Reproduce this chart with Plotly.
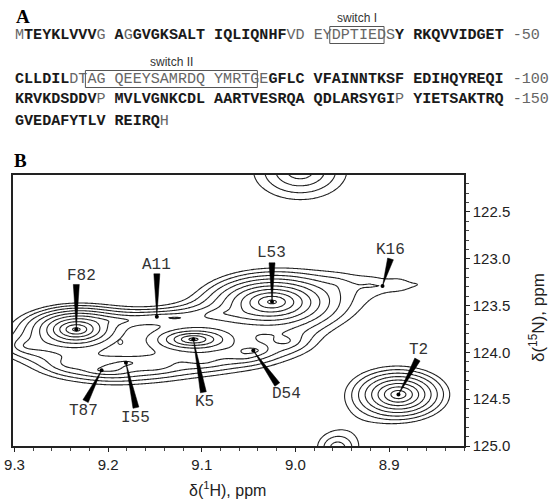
import numpy as np
import plotly.graph_objects as go

# ---------------- data ----------------
# Panel A: sequence rows as (text, bold) segments
seq_rows = [
    [("M", 0), ("TEYKLVVV", 1), ("G ", 0), ("A", 1), ("G", 0), ("GVGKSALT IQLIQNHF", 1),
     ("VD EYDPTIEDS", 0), ("Y RKQVVIDGET", 1), (" -50", 0)],
    [("CLLDIL", 1), ("DTAG QEEYSAMRDQ YMRTGE", 0), ("GFLC VFAINNTKSF EDIHQYREQI", 1), (" -100", 0)],
    [("KRVKDSDDV", 1), ("P", 0), (" MVLVGNKCDL AARTVESRQA QDLARSYGI", 1), ("P", 0),
     (" YIETSAKTRQ", 1), (" -150", 0)],
    [("GVEDAFYTLV REIRQ", 1), ("H", 0)],
]
# switch regions: (label, row, first char index, last char index exclusive)
switch_regions = [("switch I", 0, 35, 41), ("switch II", 1, 8, 27)]

# Panel B: assigned peaks (1H ppm, 15N ppm, height, width 1H, width 15N)
peak_names = ["F82", "A11", "L53", "K16", "K5", "D54", "T87", "I55", "T2"]
peak_h = [9.234, 9.148, 9.025, 8.907, 9.109, 9.045, 9.207, 9.181, 8.890]
peak_n = [123.755, 123.62, 123.46, 123.29, 123.86, 123.98, 124.19, 124.11, 124.45]
peak_amp = [18.0, 0.5, 18.0, 0.3, 13.0, 1.8, 1.1, 1.1, 12.0]
peak_wh = [0.020, 0.03, 0.028, 0.02, 0.022, 0.012, 0.016, 0.016, 0.022]
peak_wn = [0.09, 0.06, 0.12, 0.03, 0.065, 0.04, 0.04, 0.04, 0.12]
# label offsets (px) from peak: label centre and wedge base
label_dx = [5, 0, -1, 8, 11, 33, -18, 10, 20]
label_dy = [-53, -52, -49, -36, 63, 43, 41, 55, -45]
wedge_dx = [0, 0, 0, 8, 10, 24, -16, 10, 19]
wedge_dy = [-45, -43, -39, -27, 53, 34, 31, 45, -35]

# unassigned / overlapping spectral components (1H, 15N, height, wH, wN)
extra_h = [8.995, 8.955,
           9.285, 9.240, 9.195, 9.150, 9.100, 9.055, 9.010,
           9.190, 9.130, 9.075,
           8.955, 8.920, 8.890, 8.868]
extra_n = [122.06, 125.02,
           123.93, 124.12, 124.17, 124.13, 124.08, 124.03, 123.88,
           123.66, 123.63, 123.58,
           123.27, 123.27, 123.27, 123.27]
extra_amp = [3.6, 2.6,
             2.0, 2.0, 2.2, 2.2, 1.8, 1.8, 1.8,
             1.7, 1.7, 1.7,
             0.58, 0.58, 0.58, 0.58]
extra_wh = [0.039, 0.022,
            0.03, 0.03, 0.03, 0.03, 0.03, 0.03, 0.025,
            0.045, 0.045, 0.04,
            0.03, 0.03, 0.025, 0.02]
extra_wn = [0.24, 0.17,
            0.12, 0.12, 0.12, 0.12, 0.12, 0.12, 0.12,
            0.06, 0.06, 0.07,
            0.18, 0.18, 0.18, 0.18]
# small unassigned peak shown as a tiny ring
minor_h = [9.187]
minor_n = [123.89]

x_ticks = [9.3, 9.2, 9.1, 9.0, 8.9]
y_ticks = [122.5, 123.0, 123.5, 124.0, 124.5, 125.0]
x_range = [9.3016, 8.820]
y_range = [125.0, 122.105]

# ---------------- layout geometry ----------------
W, H = 560, 500
L, R, T, B = 13, 96, 175, 54
pw, ph = W - L - R, H - T - B
sx = (x_range[0] - x_range[1]) / pw   # ppm per px (x decreases to right)
sy = (y_range[0] - y_range[1]) / ph   # ppm per px (y increases downward)


def px(x):
    return (x - L) / pw


def py(y):
    return (H - B - y) / ph


# ---------------- spectrum field ----------------
gx = np.linspace(8.80, 9.32, 320)
gy = np.linspace(121.8, 125.3, 420)
X, Y = np.meshgrid(gx, gy)
I = np.full_like(X, 1e-4)
for h, n, a, wh, wn in list(zip(peak_h, peak_n, peak_amp, peak_wh, peak_wn)) + \
        list(zip(extra_h, extra_n, extra_amp, extra_wh, extra_wn)):
    r = np.sqrt(((X - h) / wh) ** 2 + ((Y - n) / wn) ** 2 + 0.02)
    I += a * np.exp(-r)
Z = np.log(I)

fig = go.Figure()
fig.add_trace(go.Contour(
    x=gx, y=gy, z=Z,
    contours=dict(start=0, end=3.3, size=0.3, coloring="lines"),
    colorscale=[[0, "#222"], [1, "#222"]], showscale=False,
    line=dict(width=1.1, smoothing=1.0), hoverinfo="skip"))

fig.add_trace(go.Scatter(x=minor_h, y=minor_n, mode="markers",
                         marker=dict(size=5, symbol="circle-open", color="#222",
                                     line=dict(width=1)), hoverinfo="skip"))
fig.add_trace(go.Scatter(x=peak_h, y=peak_n, mode="markers",
                         marker=dict(size=4, color="black"), hoverinfo="skip"))

mono = "Liberation Mono, Courier New, monospace"
shapes = []
annotations = []
for name, h, n, ldx, ldy, wdx, wdy in zip(peak_names, peak_h, peak_n, label_dx, label_dy,
                                          wedge_dx, wedge_dy):
    # wedge triangle: tip at peak, base near label
    L_ = np.hypot(wdx, wdy)
    ux, uy = wdx / L_, wdy / L_
    nx, ny = -uy * 3.0, ux * 3.0
    pts = [(0, 0), (wdx + nx, wdy + ny), (wdx - nx, wdy - ny)]
    path = "M " + " L ".join(f"{h - p[0] * sx},{n + p[1] * sy}" for p in pts) + " Z"
    shapes.append(dict(type="path", path=path, xref="x", yref="y",
                       fillcolor="black", line=dict(color="black", width=0.5)))
    annotations.append(dict(x=h, y=n, xref="x", yref="y", text=name, showarrow=False,
                            xanchor="center", yanchor="middle",
                            xshift=ldx, yshift=-ldy,
                            font=dict(family=mono, size=16, color="#333")))

# ---------------- panel A text ----------------
char_w = 9.05
fs = char_w / 0.6
row_y = [35, 79, 99, 121]
for segs, yy in zip(seq_rows, row_y):
    parts = []
    for t, b in segs:
        if b:
            parts.append(f"<b><span style='color:#1a1a1a'>{t}</span></b>")
        else:
            parts.append(f"<span style='color:#666'>{t}</span>")
    annotations.append(dict(x=px(13), y=py(yy), xref="paper", yref="paper",
                            xanchor="left", yanchor="middle", showarrow=False,
                            text="".join(parts), font=dict(family=mono, size=fs)))

sans = "Liberation Sans, Arial, sans-serif"
for lab, row, c0, c1 in switch_regions:
    x0, x1 = 13 + c0 * char_w, 13 + c1 * char_w
    yc = row_y[row]
    shapes.append(dict(type="rect", xref="paper", yref="paper",
                       x0=px(x0), x1=px(x1), y0=py(yc - 8.5), y1=py(yc + 8.5),
                       line=dict(color="#555", width=1)))
    annotations.append(dict(x=px((x0 + x1) / 2), y=py(yc - 17), xref="paper", yref="paper",
                            text=lab, showarrow=False, xanchor="center", yanchor="middle",
                            font=dict(family=sans, size=12, color="#333")))

serif = "Liberation Serif, Times New Roman, serif"
annotations.append(dict(x=px(23), y=py(16), xref="paper", yref="paper", text="<b>A</b>",
                        showarrow=False, xanchor="center", yanchor="middle",
                        font=dict(family=serif, size=19, color="black")))
annotations.append(dict(x=px(20), y=py(160), xref="paper", yref="paper", text="<b>B</b>",
                        showarrow=False, xanchor="center", yanchor="middle",
                        font=dict(family=serif, size=19, color="black")))

annotations.append(dict(x=px(227), y=py(489), xref="paper", yref="paper",
                        text="δ(<sup>1</sup>H), ppm", showarrow=False,
                        xanchor="center", yanchor="middle",
                        font=dict(family=sans, size=16, color="#222")))
annotations.append(dict(x=px(537), y=py(318), xref="paper", yref="paper",
                        text="δ(<sup>15</sup>N), ppm", showarrow=False, textangle=-90,
                        xanchor="center", yanchor="middle",
                        font=dict(family=sans, size=17, color="#222")))

fig.update_layout(
    width=W, height=H, margin=dict(l=L, r=R, t=T, b=B, autoexpand=False),
    plot_bgcolor="white", paper_bgcolor="white", showlegend=False,
    shapes=shapes, annotations=annotations,
    xaxis=dict(range=x_range, tickvals=x_ticks, ticktext=[f"{v:.1f}" for v in x_ticks],
               showgrid=False, zeroline=False, showline=True, linecolor="#222", linewidth=1.5,
               mirror=True, ticks="outside", ticklen=4, tickcolor="#222", automargin=False,
               minor=dict(dtick=0.02, ticks="outside", ticklen=3, tickcolor="#444"),
               tickfont=dict(family=sans, size=15, color="#222")),
    yaxis=dict(range=y_range, tickvals=y_ticks, ticktext=[f"{v:.1f}" for v in y_ticks],
               side="right", showgrid=False, zeroline=False, showline=True, linecolor="#222",
               linewidth=1.5, mirror=True, ticks="outside", ticklen=4, tickcolor="#222",
               automargin=False,
               minor=dict(dtick=0.1, ticks="outside", ticklen=3, tickcolor="#444"),
               tickfont=dict(family=sans, size=15, color="#222")),
)
fig.write_html("out.html", config={"displayModeBar": False},
               post_script="document.body.style.margin='0px';")
